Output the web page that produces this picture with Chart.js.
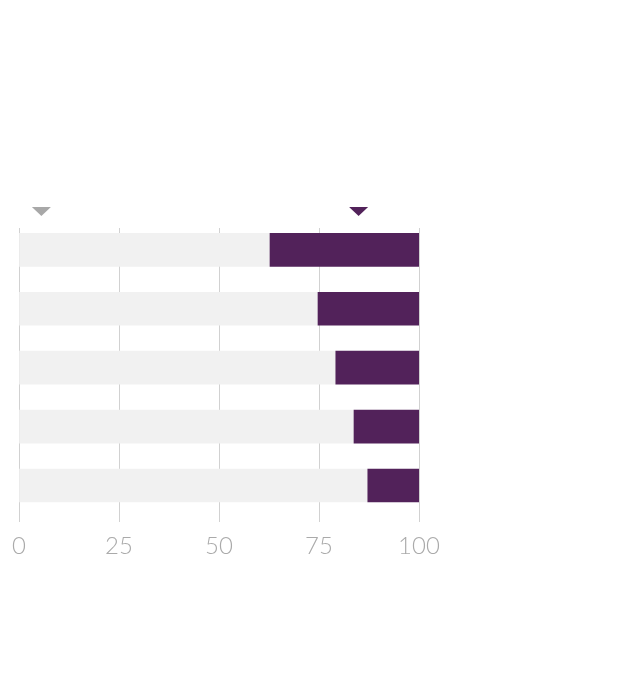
<!DOCTYPE html>
<html>
<head>
<meta charset="utf-8">
<script src="https://cdn.jsdelivr.net/npm/chart.js@4"></script>
<style>
  html, body { margin: 0; padding: 0; background: #fff; }
  #wrap { width: 640px; height: 682px; }
</style>
</head>
<body>
<div id="wrap"><canvas id="chart" width="640" height="682"></canvas></div>
<script>
// row positions, top to bottom
const rows = [0, 1, 2, 3, 4];
// where the purple part begins on each row (it runs to 100)
const purpleStart = [62.75, 74.75, 79.2, 83.75, 87.2];
const scaleMax = [100, 100, 100, 100, 100];
// the two markers above the bars
const markerValues = [5.6, 84.9];
const markerColors = ["#a8a8a8", "#52225a"];
const tickValues = [0, 25, 50, 75, 100];

const PURPLE = "#52225a";
const LIGHT = "#f1f1f1";

const grayData = rows.map((r, i) => ({ y: r, x: [0, purpleStart[i]] }));
const purpleData = rows.map((r, i) => ({ y: r, x: [purpleStart[i], scaleMax[i]] }));

// flat down-pointing triangles above the plot
const markerPlugin = {
    id: "markers",
    afterDraw(chart) {
        const ctx = chart.ctx;
        const xs = chart.scales.x;
        const top = 207, h = 9, halfW = 9.5;
        markerValues.forEach((v, i) => {
            const px = xs.getPixelForValue(v);
            ctx.save();
            ctx.fillStyle = markerColors[i];
            ctx.beginPath();
            ctx.moveTo(px - halfW, top);
            ctx.lineTo(px + halfW, top);
            ctx.lineTo(px, top + h);
            ctx.closePath();
            ctx.fill();
            ctx.restore();
        });
    }
};

new Chart(document.getElementById("chart"), {
    type: "bar",
    data: {
        datasets: [
            { data: grayData, backgroundColor: LIGHT, barThickness: 33, grouped: false, order: 2 },
            { data: purpleData, backgroundColor: PURPLE, barThickness: 33, grouped: false, order: 1 }
        ]
    },
    options: {
        indexAxis: "y",
        responsive: false,
        animation: false,
        layout: { padding: { left: 19, right: 221, top: 228, bottom: 0 } },
        plugins: { legend: { display: false }, tooltip: { enabled: false } },
        scales: {
            x: {
                type: "linear",
                min: 0,
                max: 100,
                z: 1,
                afterFit: (s) => { s.height = 160; },
                afterBuildTicks: (s) => { s.ticks = tickValues.map(v => ({ value: v })); },
                grid: { color: "rgba(190,190,190,0.7)", lineWidth: 1, drawTicks: false },
                border: { display: false },
                ticks: {
                    color: "#aaaaaa",
                    padding: 10,
                    font: { family: "Lato", weight: 300, size: 24 }
                }
            },
            y: {
                type: "linear",
                reverse: true,
                offset: false,
                grid: { offset: false },
                min: -0.37,
                max: 4.62,
                display: false
            }
        }
    },
    plugins: [markerPlugin]
});
</script>
</body>
</html>
